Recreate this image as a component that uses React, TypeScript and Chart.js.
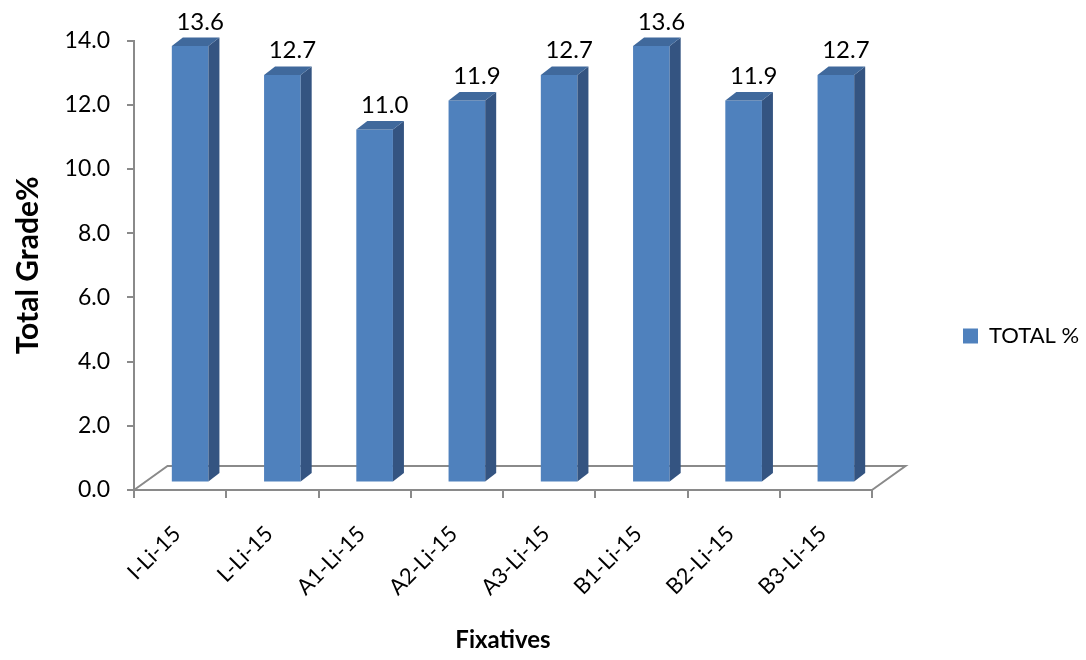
import React, { useEffect, useRef } from "react";
import { Chart, registerables } from "chart.js";

Chart.register(...registerables);

// Fixative groups and their total grade
const categories = ["I-Li-15", "L-Li-15", "A1-Li-15", "A2-Li-15", "A3-Li-15", "B1-Li-15", "B2-Li-15", "B3-Li-15"];
const totalPercent = [13.6, 12.7, 11.0, 11.9, 12.7, 13.6, 11.9, 12.7];
const seriesName = "TOTAL %";
const yTicks = [0, 2, 4, 6, 8, 10, 12, 14];

const FRONT = "#4F81BD";
const SIDE = "#345481";
const TOP = "#40699C";
const AXIS_GREY = "#8A8A8A";
const FONT = "Lato, 'DejaVu Sans', sans-serif";

// Pseudo-3D geometry: bars sit mid-way into the floor's depth
const SHIFT_X = 10;
const SHIFT_Y = -7.5;
const DEPTH_X = 11;
const DEPTH_Y = 8.5;
const FLOOR_X = 33.5;
const FLOOR_Y = 24;

const bar3d = {
  id: "bar3d",
  beforeDatasetsDraw(chart: any) {
    const { ctx, chartArea: a } = chart;
    ctx.save();
    ctx.strokeStyle = AXIS_GREY;
    ctx.lineWidth = 2;
    ctx.beginPath();
    ctx.moveTo(a.left, a.bottom);
    ctx.lineTo(a.left + FLOOR_X, a.bottom - FLOOR_Y);
    ctx.lineTo(a.right + FLOOR_X, a.bottom - FLOOR_Y);
    ctx.lineTo(a.right, a.bottom);
    ctx.stroke();
    ctx.restore();
    ctx.save();
    ctx.translate(SHIFT_X, SHIFT_Y);
  },
  afterDatasetsDraw(chart: any) {
    const { ctx } = chart;
    ctx.restore();
    const meta = chart.getDatasetMeta(0);
    const values = chart.data.datasets[0].data as number[];
    ctx.save();
    meta.data.forEach((bar: any, i: number) => {
      const { x, y, base, width } = bar.getProps(["x", "y", "base", "width"], true);
      const l = x - width / 2 + SHIFT_X;
      const r = x + width / 2 + SHIFT_X;
      const t = y + SHIFT_Y;
      const b = base + SHIFT_Y;
      ctx.fillStyle = SIDE;
      ctx.beginPath();
      ctx.moveTo(r, t);
      ctx.lineTo(r + DEPTH_X, t - DEPTH_Y);
      ctx.lineTo(r + DEPTH_X, b - DEPTH_Y);
      ctx.lineTo(r, b);
      ctx.closePath();
      ctx.fill();
      ctx.fillStyle = TOP;
      ctx.beginPath();
      ctx.moveTo(l, t);
      ctx.lineTo(l + DEPTH_X, t - DEPTH_Y);
      ctx.lineTo(r + DEPTH_X, t - DEPTH_Y);
      ctx.lineTo(r, t);
      ctx.closePath();
      ctx.fill();
      ctx.fillStyle = "#000";
      ctx.font = `24px ${FONT}`;
      ctx.textAlign = "center";
      ctx.textBaseline = "alphabetic";
      ctx.fillText(values[i].toFixed(1), x + SHIFT_X + 10, t - DEPTH_Y - 8);
    });
    ctx.restore();
  },
};

export default function App() {
  const ref = useRef<HTMLCanvasElement>(null);

  useEffect(() => {
    if (!ref.current) return;
    const chart = new Chart(ref.current, {
      type: "bar",
      data: {
        labels: categories,
        datasets: [
          {
            label: seriesName,
            data: totalPercent,
            backgroundColor: FRONT,
            borderWidth: 0,
            barPercentage: 0.397,
            categoryPercentage: 1,
            clip: false as any,
          },
        ],
      },
      options: {
        responsive: false,
        animation: false,
        layout: { padding: { top: 12, right: 0, bottom: 0, left: 0 } },
        plugins: {
          title: { display: true, text: "", font: { size: 12 }, padding: { top: 0, bottom: 14.3 } },
          tooltip: { enabled: false },
          legend: {
            position: "right",
            maxWidth: 214,
            labels: {
              boxWidth: 15,
              boxHeight: 15,
              padding: 91,
              color: "#000",
              font: { family: FONT, size: 22 },
            },
          },
        },
        scales: {
          x: {
            afterFit: (s: any) => {
              s.height = 170;
            },
            grid: { display: true, drawOnChartArea: false, tickLength: 8, color: AXIS_GREY, lineWidth: 2, offset: true },
            border: { display: true, color: AXIS_GREY, width: 2 },
            ticks: {
              color: "#000",
              font: { family: FONT, size: 22 },
              maxRotation: 45,
              minRotation: 45,
              padding: 23,
              labelOffset: -3,
            },
            title: {
              display: true,
              text: "Fixatives",
              color: "#000",
              font: { family: FONT, size: 24, weight: "bold" },
              padding: { top: 0, bottom: 5 },
            },
          },
          y: {
            min: 0,
            max: 14,
            afterFit: (s: any) => {
              s.width = 134;
            },
            afterBuildTicks: (s: any) => {
              s.ticks = yTicks.map((v) => ({ value: v }));
            },
            grid: { display: true, drawOnChartArea: false, tickLength: 7, color: AXIS_GREY, lineWidth: 2 },
            border: { display: true, color: AXIS_GREY, width: 2 },
            ticks: {
              color: "#000",
              font: { family: FONT, size: 23 },
              padding: 17,
              callback: (v: any) => Number(v).toFixed(1),
            },
            title: {
              display: true,
              text: "Total Grade%",
              color: "#000",
              font: { family: FONT, size: 30, weight: "bold" },
              padding: { top: 10, bottom: 0 },
            },
          },
        },
      },
      plugins: [bar3d],
    });
    return () => chart.destroy();
  }, []);

  return (
    <div style={{ position: "absolute", left: 0, top: 0, width: 1086, height: 660, background: "#fff" }}>
      <canvas ref={ref} width={1086} height={660} />
    </div>
  );
}
